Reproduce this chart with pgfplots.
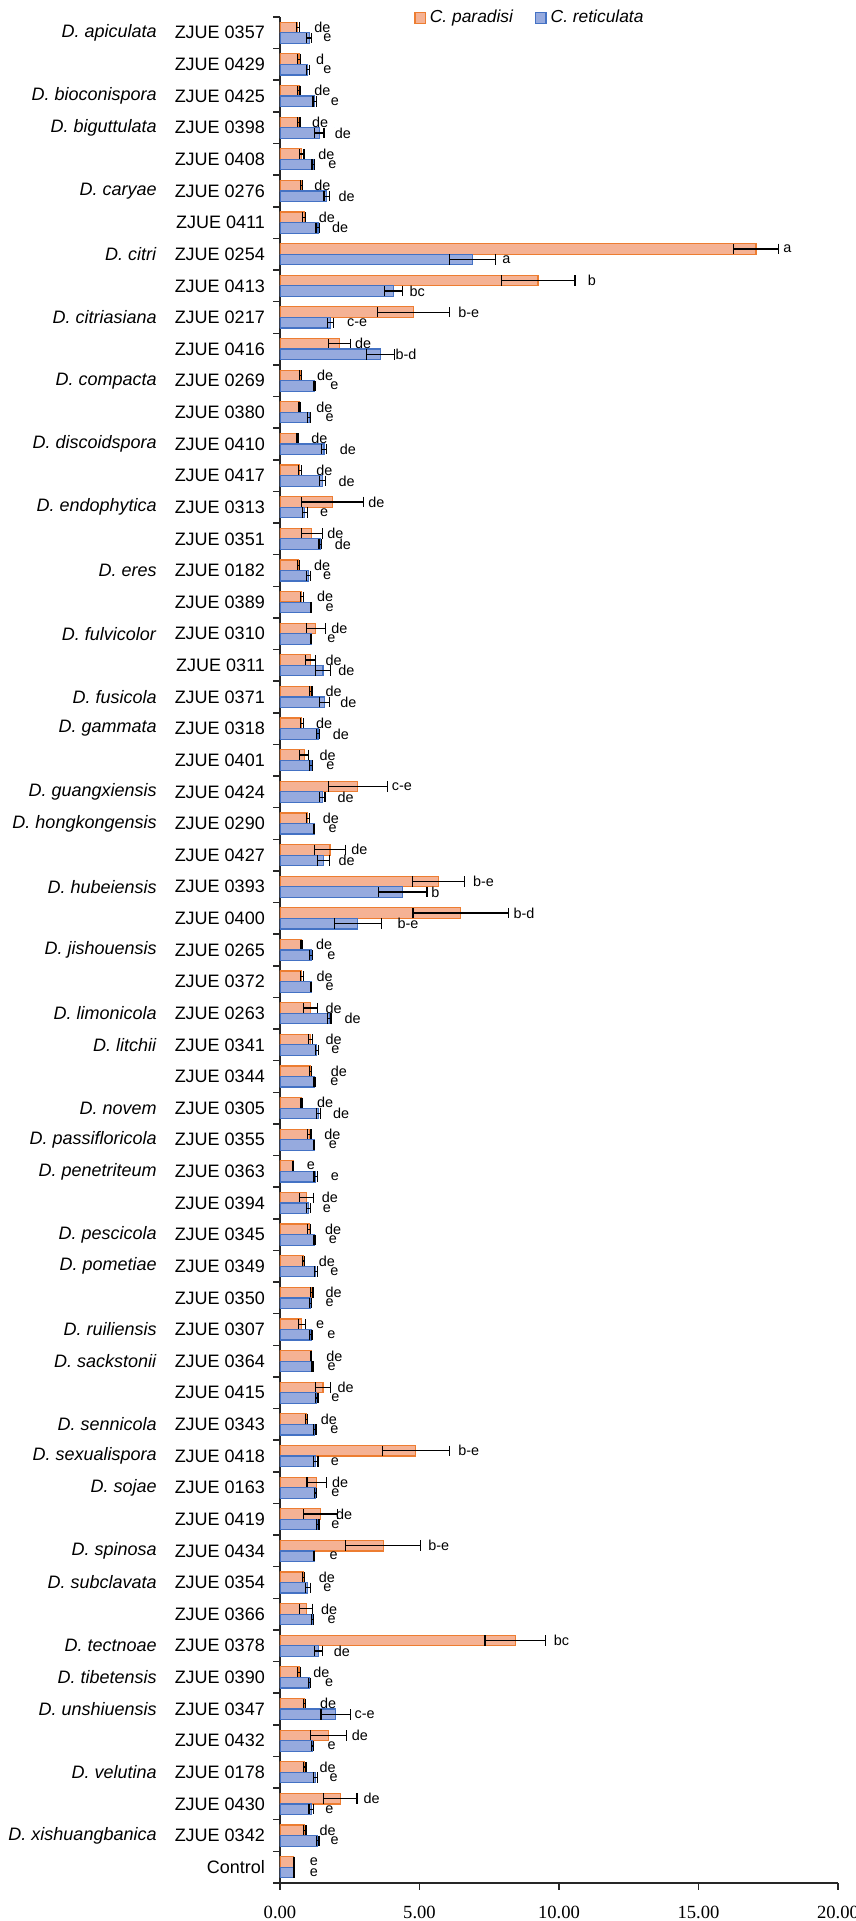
\documentclass[border=0pt]{standalone}
\usepackage{pgfplots}
\pgfplotsset{compat=1.18}
\usepackage{pgfplotstable}
\usepackage{fontspec}
\setmainfont{Liberation Sans}
\newfontfamily\tnr{Liberation Serif}
\definecolor{orfill}{RGB}{245,178,148}
\definecolor{ordraw}{RGB}{237,125,49}
\definecolor{blfill}{RGB}{150,170,222}
\definecolor{bldraw}{RGB}{68,114,196}

\pgfplotstableread{
y p pe r re plx pl rlx rl
58 0.64 0.05 1.05 0.09 1.22 de 1.54 e
57 0.68 0.05 1.00 0.06 1.28 d 1.54 e
56 0.68 0.04 1.25 0.07 1.22 de 1.81 e
55 0.68 0.04 1.41 0.17 1.14 de 1.95 de
54 0.78 0.08 1.20 0.05 1.36 de 1.72 e
53 0.78 0.04 1.68 0.10 1.22 de 2.09 de
52 0.87 0.05 1.36 0.07 1.38 de 1.85 de
51 17.06 0.80 6.90 0.83 18.03 a 7.96 a
50 9.25 1.32 4.07 0.33 11.02 b 4.63 bc
49 4.79 1.29 1.81 0.10 6.38 b-e 2.39 c-e
48 2.13 0.40 3.61 0.50 2.68 de 4.13 b-d
47 0.74 0.04 1.25 0.03 1.32 de 1.79 e
46 0.71 0.03 1.05 0.05 1.29 de 1.62 e
45 0.64 0.03 1.58 0.10 1.11 de 2.13 de
44 0.71 0.05 1.52 0.10 1.29 de 2.09 de
43 1.89 1.11 0.89 0.09 3.15 de 1.42 e
42 1.14 0.38 1.45 0.05 1.68 de 1.95 de
41 0.66 0.03 1.02 0.07 1.21 de 1.53 e
40 0.78 0.05 1.11 0.03 1.32 de 1.62 e
39 1.28 0.34 1.11 0.03 1.83 de 1.68 e
38 1.09 0.17 1.54 0.28 1.62 de 2.08 de
37 1.11 0.04 1.60 0.17 1.62 de 2.15 de
36 0.78 0.05 1.36 0.05 1.28 de 1.88 de
35 0.87 0.16 1.11 0.05 1.41 de 1.65 e
34 2.79 1.05 1.52 0.09 4.00 c-e 2.05 de
33 1.00 0.05 1.22 0.03 1.52 de 1.73 e
32 1.79 0.55 1.56 0.22 2.54 de 2.09 de
31 5.68 0.94 4.40 0.87 6.91 b-e 5.41 b
30 6.48 1.71 2.79 0.85 8.36 b-d 4.20 b-e
29 0.78 0.03 1.11 0.05 1.28 de 1.68 e
28 0.78 0.05 1.11 0.03 1.30 de 1.62 e
27 1.09 0.25 1.76 0.07 1.62 de 2.30 de
26 1.09 0.08 1.32 0.06 1.62 de 1.83 e
25 1.09 0.04 1.25 0.03 1.81 de 1.79 e
24 0.78 0.03 1.38 0.07 1.32 de 1.89 de
23 1.05 0.06 1.22 0.03 1.58 de 1.74 e
22 0.47 0.02 1.28 0.06 0.95 e 1.81 e
21 0.95 0.24 1.03 0.07 1.49 de 1.52 e
20 1.05 0.05 1.25 0.03 1.60 de 1.74 e
19 0.85 0.04 1.28 0.05 1.38 de 1.79 e
18 1.14 0.04 1.09 0.03 1.62 de 1.62 e
17 0.78 0.13 1.11 0.04 1.28 e 1.68 e
16 1.11 0.02 1.18 0.03 1.65 de 1.69 e
15 1.54 0.27 1.32 0.04 2.05 de 1.83 e
14 0.95 0.05 1.25 0.04 1.45 de 1.79 e
13 4.87 1.20 1.28 0.08 6.38 b-e 1.81 e
12 1.32 0.35 1.28 0.04 1.85 de 1.83 e
11 1.45 0.62 1.35 0.05 2.00 de 1.83 e
10 3.70 1.34 1.22 0.03 5.30 b-e 1.76 e
9 0.85 0.03 1.00 0.09 1.38 de 1.54 e
8 0.94 0.23 1.17 0.03 1.46 de 1.69 e
7 8.43 1.08 1.38 0.13 9.80 bc 1.92 de
6 0.68 0.06 1.05 0.03 1.18 de 1.60 e
5 0.87 0.04 2.00 0.53 1.42 de 2.66 c-e
4 1.74 0.64 1.17 0.03 2.56 de 1.69 e
3 0.88 0.05 1.27 0.06 1.41 de 1.76 e
2 2.16 0.60 1.12 0.08 2.98 de 1.61 e
1 0.88 0.05 1.35 0.05 1.41 de 1.80 e
0 0.49 0.01 0.49 0.01 1.06 e 1.06 e
}\datatable

\begin{document}
\begin{tikzpicture}
\useasboundingbox (-140pt,-19pt) rectangle (288pt,941.5pt);
\begin{axis}[
  at={(0,0)}, anchor=south west,
  scale only axis, width=279pt, height=933pt,
  xmin=0, xmax=20, ymin=-0.5, ymax=58.5,
  axis lines*=left,
  axis line style={line width=0.75pt, black!85},
  tick align=outside,
  xtick={0,5,10,15,20},
  xticklabels={0.00,5.00,10.00,15.00,20.00},
  xticklabel style={font=\tnr\fontsize{9.3}{10}\selectfont, inner sep=0pt, anchor=north, yshift=-8pt},
  major tick length=3.4pt,
  tick style={line width=0.75pt, black!85},
  ytick={-0.5,0.5,...,58.5},
  yticklabels={Control, ZJUE 0342, ZJUE 0430, ZJUE 0178, ZJUE 0432, ZJUE 0347, ZJUE 0390, ZJUE 0378, ZJUE 0366, ZJUE 0354, ZJUE 0434, ZJUE 0419, ZJUE 0163, ZJUE 0418, ZJUE 0343, ZJUE 0415, ZJUE 0364, ZJUE 0307, ZJUE 0350, ZJUE 0349, ZJUE 0345, ZJUE 0394, ZJUE 0363, ZJUE 0355, ZJUE 0305, ZJUE 0344, ZJUE 0341, ZJUE 0263, ZJUE 0372, ZJUE 0265, ZJUE 0400, ZJUE 0393, ZJUE 0427, ZJUE 0290, ZJUE 0424, ZJUE 0401, ZJUE 0318, ZJUE 0371, ZJUE 0311, ZJUE 0310, ZJUE 0389, ZJUE 0182, ZJUE 0351, ZJUE 0313, ZJUE 0417, ZJUE 0410, ZJUE 0380, ZJUE 0269, ZJUE 0416, ZJUE 0217, ZJUE 0413, ZJUE 0254, ZJUE 0411, ZJUE 0276, ZJUE 0408, ZJUE 0398, ZJUE 0425, ZJUE 0429, ZJUE 0357, {}},
  yticklabel style={font=\fontsize{9}{10}\selectfont, inner sep=0pt, anchor=east, xshift=-4pt, yshift=7.907pt},
  extra y ticks={1,3,5,6,7,9,10,12,13,14,16,17,19,20,22,23,24,26,27,29,31,33,34,36,37,39,41,43,45,47,49,51,53,55,56,58},
  extra y tick labels={\textit{D. xishuangbanica}, \textit{D. velutina}, \textit{D. unshiuensis}, \textit{D. tibetensis}, \textit{D. tectnoae}, \textit{D. subclavata}, \textit{D. spinosa}, \textit{D. sojae}, \textit{D. sexualispora}, \textit{D. sennicola}, \textit{D. sackstonii}, \textit{D. ruiliensis}, \textit{D. pometiae}, \textit{D. pescicola}, \textit{D. penetriteum}, \textit{D. passifloricola}, \textit{D. novem}, \textit{D. litchii}, \textit{D. limonicola}, \textit{D. jishouensis}, \textit{D. hubeiensis}, \textit{D. hongkongensis}, \textit{D. guangxiensis}, \textit{D. gammata}, \textit{D. fusicola}, \textit{D. fulvicolor}, \textit{D. eres}, \textit{D. endophytica}, \textit{D. discoidspora}, \textit{D. compacta}, \textit{D. citriasiana}, \textit{D. citri}, \textit{D. caryae}, \textit{D. biguttulata}, \textit{D. bioconispora}, \textit{D. apiculata}},
  extra y tick style={major tick length=0pt, tick label style={xshift=-57.5pt, yshift=-7.907pt}},
  legend style={at={(0.240,0.9995)}, anchor=west, draw=none, fill=none, legend columns=2,
    font=\itshape\fontsize{8.7}{10}\selectfont, inner sep=0pt,
    /tikz/every even column/.append style={column sep=9pt}},
]
\addplot[xbar, bar width=5.27pt, bar shift=2.64pt, fill=orfill, draw=ordraw, line width=0.6pt,
  legend image code/.code={\draw[fill=orfill, draw=ordraw, line width=0.6pt] (0pt,-2.6pt) rectangle (5.2pt,2.6pt);},
  error bars/.cd, x dir=both, x explicit,
  error bar style={line width=0.6pt, black, yshift=2.64pt},
  error mark=|,
  error mark options={mark size=2.6pt, line width=0.6pt, black}]
  table[x=p, y=y, x error=pe]{\datatable};
\addlegendentry{C. paradisi}
\addplot[xbar, bar width=5.27pt, bar shift=-2.64pt, fill=blfill, draw=bldraw, line width=0.6pt,
  legend image code/.code={\draw[fill=blfill, draw=bldraw, line width=0.6pt] (0pt,-2.6pt) rectangle (5.2pt,2.6pt);},
  error bars/.cd, x dir=both, x explicit,
  error bar style={line width=0.6pt, black, yshift=-2.64pt},
  error mark=|,
  error mark options={mark size=2.6pt, line width=0.6pt, black}]
  table[x=r, y=y, x error=re]{\datatable};
\addlegendentry{C. reticulata}
\addplot[forget plot, only marks, mark=*, mark size=0pt, mark options={draw=none, fill=none},
  point meta=explicit symbolic, nodes near coords, nodes near coords align={horizontal},
  every node near coord/.append style={anchor=west, inner sep=0pt, yshift=2.64pt, font=\fontsize{7.2}{8}\selectfont, text=black}]
  table[x=plx, y=y, meta=pl]{\datatable};
\addplot[forget plot, only marks, mark=*, mark size=0pt, mark options={draw=none, fill=none},
  point meta=explicit symbolic, nodes near coords, nodes near coords align={horizontal},
  every node near coord/.append style={anchor=west, inner sep=0pt, yshift=-2.64pt, font=\fontsize{7.2}{8}\selectfont, text=black}]
  table[x=rlx, y=y, meta=rl]{\datatable};
\end{axis}
\end{tikzpicture}
\end{document}
